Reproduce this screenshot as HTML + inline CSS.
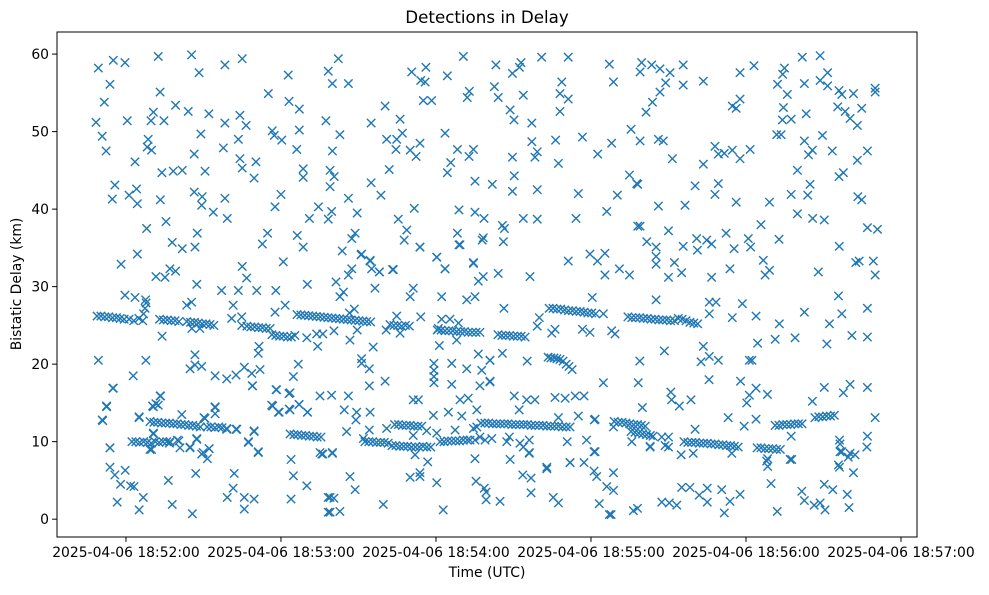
<!DOCTYPE html>
<html>
<head>
<meta charset="utf-8">
<style>
  html, body { margin: 0; padding: 0; background: #ffffff; }
  body { width: 989px; height: 590px; overflow: hidden; }
  svg text { font-family: "DejaVu Sans", "Liberation Sans", sans-serif; fill: #000; }
</style>
</head>
<body>
<svg id="chart" width="989" height="590" viewBox="0 0 989 590" xmlns="http://www.w3.org/2000/svg">
  <rect x="0" y="0" width="989" height="590" fill="#ffffff"/>
  <text x="487" y="23" font-size="16.7" text-anchor="middle">Detections in Delay</text>
  <g id="marks"></g>
  <g id="xticks"></g>
  <g id="yticks"></g>
  <rect x="57" y="32" width="860" height="505" fill="none" stroke="#000" stroke-width="1"/>
  <text x="487" y="577" font-size="13.9" text-anchor="middle">Time (UTC)</text>
  <text x="21" y="284" font-size="13.9" text-anchor="middle" transform="rotate(-90 21 284)">Bistatic Delay (km)</text>
</svg>
<script>
// seconds relative to 2025-04-06 18:52:00 UTC, delay in km
const xTickValues = [0, 60, 120, 180, 240, 300];
const xTickLabels = ["2025-04-06 18:52:00","2025-04-06 18:53:00","2025-04-06 18:54:00","2025-04-06 18:55:00","2025-04-06 18:56:00","2025-04-06 18:57:00"];
const yTickValues = [0, 10, 20, 30, 40, 50, 60];
const yTickLabels = ["0","10","20","30","40","50","60"];

const trackUpper1 = [[-11.2,26.2],[-9.7,26.2],[-8.2,26.1],[-6.7,26.1],[-5.2,26.0],[-3.7,26.0],[-2.2,25.9],[-0.7,25.8],[1.2,25.8],[3.0,25.6],[5.0,25.9],[6.8,26.5],[7.4,27.2],[7.8,27.9],[6.5,25.6]];
const trackUpper2 = [[13,25.8],[14.5,25.7],[16,25.7],[17.5,25.6],[19,25.6],[20.5,25.5],[14,23.6]];
const trackUpper3 = [[23.5,25.5],[25,25.4],[26.5,25.4],[28,25.3],[29.5,25.2],[31,25.2],[32.5,25.1],[34,25.0],[25.5,24.6],[28.6,24.6]];
const trackUpper4 = [[46.8,24.9],[48.3,24.8],[49.8,24.8],[51.3,24.7],[52.8,24.7],[54.3,24.6],[55.8,24.6],[56.5,23.8],[58,23.7],[59.5,23.6],[61,23.6],[62.5,23.5],[64,23.5]];
const trackUpper5 = [[66.2,26.4],[67.7,26.35],[69.2,26.3],[70.7,26.25],[72.2,26.2],[73.7,26.15],[75.2,26.1],[76.7,26.05],[78.2,26.0],[79.7,25.95],[81.2,25.9],[82.7,25.85],[84.2,25.8],[85.7,25.75],[87.2,25.7],[88.7,25.65],[90.2,25.6],[91.7,25.55],[93.2,25.5],[94.7,25.45]];
const trackUpper6 = [[102.2,25.1],[103.7,25.0],[105.2,25.0],[106.7,24.9],[108.2,25.0],[109.7,24.9]];
const trackUpper7 = [[120.5,24.4],[122,24.4],[123.5,24.3],[125,24.3],[126.5,24.3],[128,24.2],[129.5,24.2],[131,24.2],[132.5,24.1],[134,24.1],[135.5,24.1]];
const trackUpper8 = [[144,23.8],[145.5,23.7],[147,23.7],[148.5,23.7],[150,23.6],[151.5,23.6],[153,23.6],[154.5,23.5]];
const trackUpper9 = [[163.8,27.2],[165.3,27.2],[166.8,27.1],[168.3,27.1],[169.8,27.0],[171.3,26.9],[172.8,26.9],[174.3,26.8],[175.8,26.8],[177.3,26.7],[178.8,26.6],[180.3,26.6],[181.8,26.5]];
const trackUpper10 = [[194.3,26.1],[195.8,26.0],[197.3,26.0],[198.8,26.0],[200.3,25.9],[201.8,25.9],[203.3,25.8],[204.8,25.8],[206.3,25.7],[207.8,25.7],[209.3,25.7],[210.8,25.6],[212.3,25.6],[213.8,25.9],[215.3,25.8],[216.8,25.6],[218.3,25.4],[219.8,25.3],[221.3,25.2]];
const trackMid20 = [[163.4,20.9],[164.5,20.8],[165.7,20.8],[166.8,20.7],[168,20.6],[169.2,20.4],[170.4,20.0],[171.5,19.7],[172.7,19.3]];
const trackLowerA = [[2.3,10.0],[3.8,10.0],[5.3,9.9],[6.8,10.0],[8.3,9.9],[9.8,9.8],[11.3,10.0],[12.8,9.9],[14.3,10.0],[15.8,10.0],[17,10.0]];
const trackLowerB = [[9.3,12.6],[10.8,12.5],[12.3,12.5],[13.8,12.4],[15.3,12.4],[16.8,12.4],[18.3,12.3],[19.8,12.3],[21.3,12.2],[22.8,12.2],[24.3,12.1],[25.8,12.1],[27.3,12.0],[28.8,11.9]];
const trackLowerC = [[31.4,11.9],[32.9,11.9],[34.4,11.8],[35.9,11.9],[37.2,11.8]];
const trackLowerD = [[63.5,11.0],[65,10.9],[66.5,10.9],[68,10.8],[69.5,10.8],[71,10.7],[72.5,10.7],[74,10.6],[75.5,10.6]];
const trackLowerE = [[92.5,10.0],[94,10.0],[95.5,10.0],[97,9.9],[98.5,9.9],[100,9.9],[101.5,9.8],[103,9.5],[104.5,9.5],[106,9.4],[107.5,9.4],[109,9.4],[110.5,9.3],[112,9.3],[113.5,9.3],[115,9.4],[116.5,9.3],[118,9.3]];
const trackLowerF = [[104,12.2],[105.5,12.2],[107,12.1],[108.5,12.1],[110,12.1],[111.5,12.0],[113,12.0],[114.5,12.0]];
const trackLowerG = [[121.6,10.0],[123.1,10.0],[124.6,10.1],[126.1,10.1],[127.6,10.1],[129.1,10.1],[130.6,10.2],[132.1,10.2],[133.2,10.2]];
const trackLowerH = [[137.4,12.4],[138.9,12.4],[140.4,12.4],[141.9,12.3],[143.4,12.3],[144.9,12.3],[146.4,12.3],[147.9,12.3],[149.4,12.2],[150.9,12.2],[152.4,12.2],[153.9,12.2],[155.4,12.2],[156.9,12.1],[158.4,12.1],[159.9,12.1],[161.4,12.1],[162.9,12.0],[164.4,12.0],[165.9,12.0],[167.4,12.0],[168.9,11.9],[170.4,11.9],[171.9,11.9]];
const trackLowerI = [[189,12.6],[190.5,12.5],[192,12.5],[193.5,12.4],[195,12.3],[196.5,12.2],[198,12.2],[199.5,12.1],[201,12.0],[195.5,11.3],[197,11.2],[198.5,11.1],[200,11.0],[201.5,10.9],[203,10.8],[204,10.7]];
const trackLowerJ = [[216,10.0],[217.5,9.9],[219,9.9],[220.5,9.9],[222,9.8],[223.5,9.8],[225,9.8],[226.5,9.7],[228,9.7],[229.5,9.6],[231,9.6],[232.5,9.5],[234,9.5],[235.5,9.4],[237,9.3]];
const trackLowerK = [[244.3,9.2],[245.8,9.2],[247.3,9.1],[248.8,9.1],[250.3,9.1],[251.8,9.0],[253.3,9.0]];
const trackLowerL = [[251.3,12.1],[252.8,12.1],[254.3,12.2],[255.8,12.2],[257.3,12.2],[258.8,12.3],[260.3,12.3],[261.7,12.3]];
const trackLowerM = [[266.7,13.1],[268.2,13.2],[269.7,13.2],[271.2,13.3],[272.7,13.3],[274.2,13.4]];

const noisePoints = [
[-10.7,58.2],[-4.9,59.2],[-0.4,58.9],[12.5,59.7],[25.4,59.9],[28.3,57.6],[38.3,58.6],[45.0,59.4],[-6.2,56.1],[13.2,55.1],[-8.4,53.8],[19.2,53.4],[10.6,52.5],[24.1,52.6],[32.1,52.3],[44.1,52.1],[-11.6,51.2],[0.5,51.4],[9.7,51.4],[14.7,51.4],[38.3,51.1],[46.5,50.8],[-9.2,49.4],[8.6,49.0],[29.0,49.7],[43.5,49.0],[8.2,48.0],[9.9,47.6],[-7.7,47.5],[26.4,47.1],[37.7,47.9],[44.1,46.5],[50.3,46.1],[3.5,46.1],[45.0,45.3],[13.9,44.7],[18.3,44.9],[21.8,45.0],[30.6,44.9],[49.6,44.0],[-4.3,43.1],[4.1,42.6],[1.2,41.8],[-5.3,41.3],[4.4,40.7],[13.3,41.2],[26.4,42.2],[29.5,41.6],[29.3,40.5],[38.3,41.4],[33.8,39.6],[39.2,38.8],[15.5,38.4],[8.0,37.5],[27.6,36.9],[17.9,35.7],[21.8,34.9],[26.7,35.1],[4.4,34.2],[-1.9,32.9],[45.0,32.6],[17.0,32.3],[19.2,32.0],[11.6,31.3],[15.1,31.2],[46.7,31.1],
[62.8,57.3],[82.2,59.4],[78.3,57.8],[79.9,56.2],[86.1,56.2],[55.1,54.9],[63.1,53.9],[67.1,52.9],[77.4,51.4],[56.6,50.1],[57.4,49.5],[60.3,48.9],[67.1,50.2],[82.8,49.6],[66.1,47.7],[79.9,47.5],[68.6,45.2],[68.6,44.1],[79.0,45.0],[80.6,44.2],[79.0,42.9],[60.0,41.9],[57.7,40.3],[74.5,40.3],[71.0,38.8],[79.6,39.7],[78.3,38.7],[86.1,41.4],[89.5,39.5],[54.8,36.9],[52.8,35.5],[66.3,36.6],[68.6,35.1],[88.7,36.9],[87.4,36.2],[83.7,34.6],[91.0,34.1],[60.9,33.2],[87.4,32.3],[86.1,31.5],
[130.6,59.7],[143.2,58.6],[152.9,58.9],[152.3,58.3],[149.6,57.5],[160.9,59.6],[171.2,59.6],[187.1,58.7],[188.7,56.4],[168.7,56.4],[168.0,54.9],[171.2,54.2],[168.0,52.6],[110.6,57.7],[116.1,58.3],[114.1,56.6],[115.8,56.4],[124.4,57.2],[115.1,54.0],[118.3,54.0],[132.9,55.2],[132.1,54.4],[142.6,55.8],[144.1,54.4],[153.8,54.7],[148.7,52.8],[150.2,51.5],[157.1,51.1],[100.3,53.3],[94.9,51.1],[106.1,51.6],[107.0,49.8],[100.9,49.0],[104.8,49.0],[104.5,47.7],[110.0,47.6],[113.8,48.5],[112.3,46.8],[123.5,49.8],[128.3,47.7],[134.5,47.7],[132.8,46.8],[125.7,46.0],[124.4,44.7],[101.9,45.1],[94.9,43.4],[98.7,41.8],[157.1,48.7],[159.2,47.4],[158.3,46.7],[149.6,46.7],[166.3,48.9],[167.4,45.9],[176.7,49.3],[182.6,47.1],[188.0,48.5],[195.5,50.3],[150.3,44.3],[149.6,42.3],[159.2,42.5],[135.1,43.6],[141.8,43.2],[175.1,42.0],[190.2,41.8],[194.9,44.4],[197.7,43.3],[111.6,40.1],[105.4,38.7],[108.7,37.3],[107.7,36.0],[113.8,35.1],[128.9,39.9],[135.1,39.6],[138.6,38.8],[128.3,36.9],[128.9,35.4],[138.3,36.3],[137.9,36.0],[145.7,37.9],[146.5,37.5],[146.1,35.8],[153.8,38.8],[159.2,38.7],[174.2,38.8],[186.1,39.7],[198.1,37.8],[91.2,34.2],[94.5,33.3],[95.1,32.3],[98.1,31.9],[103.2,32.2],[120.3,33.8],[123.5,32.3],[134.5,33.1],[144.1,31.7],[171.2,33.3],[179.6,34.2],[185.4,34.3],[182.5,33.3],[191.0,32.3],[185.4,31.5],[194.9,31.5],[138.3,31.3],[156.4,31.3],
[199.6,58.9],[199.0,57.7],[203.5,58.6],[206.7,58.1],[210.6,57.6],[215.7,58.6],[208.9,56.3],[215.7,56.0],[223.5,56.5],[206.7,55.1],[203.8,53.8],[201.3,52.5],[237.7,57.6],[243.1,58.5],[237.7,54.2],[234.7,53.3],[236.2,53.0],[252.2,56.1],[254.9,58.2],[254.2,57.4],[256.0,54.8],[261.8,59.6],[268.7,59.8],[271.6,57.6],[262.6,56.2],[268.7,56.6],[271.6,55.9],[276.0,55.3],[277.1,54.8],[281.6,54.9],[290.0,55.6],[290.0,55.1],[254.5,53.1],[254.1,51.5],[257.5,51.6],[263.3,52.3],[275.5,53.2],[278.4,52.6],[280.3,51.7],[283.1,50.8],[284.8,53.0],[251.9,49.6],[253.6,49.6],[262.6,48.8],[265.7,47.6],[264.2,47.0],[269.6,49.5],[273.4,47.5],[283.1,46.3],[287.0,47.5],[199.0,48.8],[206.1,49.0],[208.0,48.8],[211.5,46.5],[223.5,45.8],[228.0,48.1],[229.3,47.1],[231.6,47.2],[234.7,47.6],[237.7,46.5],[241.6,47.7],[198.1,43.2],[220.3,43.0],[229.3,43.3],[228.0,41.9],[206.1,40.4],[216.4,40.5],[236.2,40.9],[249.1,40.9],[259.9,45.0],[264.8,43.2],[263.9,41.8],[257.5,41.9],[276.0,44.2],[277.7,44.7],[283.3,41.6],[284.8,41.2],[259.9,39.4],[265.8,38.8],[270.3,38.6],[245.8,38.0],[252.8,36.1],[287.0,37.6],[290.9,37.4],[199.0,37.8],[210.0,37.2],[201.6,35.8],[205.2,35.1],[205.2,33.9],[205.2,32.9],[212.3,33.1],[215.1,31.8],[215.7,35.2],[220.9,36.2],[221.2,34.7],[224.8,36.0],[226.7,35.5],[232.3,36.9],[235.4,34.9],[240.9,36.2],[241.8,35.1],[233.8,32.3],[246.7,33.4],[249.1,32.1],[247.4,31.5],[268.0,31.9],[276.1,35.2],[282.5,33.1],[283.8,33.3],[289.3,33.3],[290.0,31.5],[210.0,31.2],[226.7,31.2],
[76.2,8.4],[79.9,8.5],[86.7,5.5],[88.7,3.8],[79.0,2.8],[80.5,2.7],[79.0,0.9],[82.8,1.0],[99.6,1.9],[110.0,5.4],[113.8,6.0],[113.8,5.5],[111.9,8.3],[116.8,7.4],[120.3,4.7],[122.8,1.2],[135.1,7.8],[135.5,4.9],[138.7,4.0],[139.4,3.5],[139.4,2.5],[144.8,2.3],[148.7,7.7],[153.6,5.7],[156.8,5.3],[156.8,3.4],[156.1,8.5],[162.9,6.5],[165.4,2.8],[167.4,2.1],[171.9,7.3],[177.3,7.3],[181.2,8.7],[181.2,6.2],[182.2,5.5],[188.7,6.0],[186.1,4.2],[188.7,3.7],[183.2,2.0],[187.1,0.6],
[187.8,0.6],[196.4,1.1],[198.0,1.4],[207.4,2.2],[210.3,2.1],[213.2,1.8],[215.1,4.1],[218.3,4.1],[221.9,3.1],[225.0,4.0],[225.0,2.2],[230.6,3.8],[233.8,2.3],[237.7,3.2],[231.6,0.8],[249.7,4.6],[252.1,1.0],[248.4,6.8],[257.1,7.7],[261.6,3.6],[262.6,2.4],[266.4,1.8],[268.7,2.1],[270.6,1.2],[270.3,4.5],[273.6,3.8],[279.2,3.2],[279.9,1.5],[276.2,6.7],[281.6,6.0],[279.6,8.0],[282.2,8.3],[276.4,8.7],[276.4,9.7],[286.8,9.3],[202.9,9.3],[195.8,10.0],[210.0,9.3],[214.9,8.3],[219.6,8.5],[234.5,8.5],[248.4,7.8],
[27.4,30.3],[37.0,29.5],[43.5,29.5],[50.6,29.5],[58.0,29.5],[70.2,30.3],[81.3,30.6],[84.2,29.3],[82.8,28.7],[-0.4,28.9],[3.5,28.6],[7.6,28.3],[41.5,27.6],[23.5,27.6],[25.4,28.0],[44.8,25.0],[44.8,26.1],[40.9,25.9],[61.6,27.6],[57.7,26.7],[88.4,27.1],[86.5,26.6],[96.4,29.8],[98.1,31.9],[103.5,32.2],[94.5,33.4],[111.2,29.8],[110.0,28.7],[122.2,28.7],[131.9,28.3],[135.1,28.7],[136.4,30.7],[120.3,33.8],[123.5,32.3],[134.5,33.0],[113.8,35.1],[129.3,35.4],[104.8,26.2],[114.1,26.1],[122.2,25.8],[125.4,25.8],[120.9,24.6],[128.7,25.3],[128.0,23.1],[121.3,22.4],[100.7,24.4],[106.1,24.0],[95.7,22.2],[89.5,24.4],[86.7,23.1],[80.5,24.3],[74.2,22.3],[76.2,23.9],[70.0,23.4],[73.8,23.9],[65.4,23.7],[91.2,20.7],[91.2,20.1],[94.2,19.4],[94.2,17.2],[100.3,17.8],[119.2,20.1],[119.2,19.2],[119.2,18.4],[119.2,17.6],[126.1,20.1],[126.1,17.4],[131.9,19.4],[137.7,19.2],[136.4,21.3],[140.9,20.5],[140.9,17.7],[137.0,17.2],[129.3,15.4],[132.5,15.6],[135.8,14.1],[119.0,13.4],[124.8,13.8],[130.0,13.3],[127.4,11.5],[134.5,11.7],[120.3,11.1],[111.2,15.4],[113.2,15.4],[94.5,13.8],[91.9,10.4],[85.4,11.3],[89.3,13.8],[84.5,14.1],[89.0,12.8],[94.2,11.5],[79.6,16.0],[75.1,15.9],[86.1,15.9],[66.7,20.0],[64.8,18.4],[63.1,16.2],[58.3,16.7],[56.4,14.7],[59.0,13.8],[63.5,14.1],[67.0,14.8],[70.3,13.8],[49.0,17.2],[51.9,19.3],[48.7,18.8],[45.8,19.6],[42.6,18.6],[39.0,18.1],[34.5,18.5],[29.3,19.7],[26.7,19.9],[24.8,19.4],[26.7,21.2],[51.5,22.3],[51.2,21.4],[7.7,20.5],[-10.7,20.5],[2.8,18.5],[-4.9,16.9],[-7.5,14.6],[-9.2,12.8],[5.1,13.1],[13.2,15.9],[11.6,14.9],[10.3,14.6],[21.6,13.5],[30.6,13.0],[34.5,14.5],[34.5,13.6],[42.6,11.6],[49.6,11.3],[47.4,10.0],[51.2,8.7],[39.0,11.6],[10.6,11.0],[9.3,9.0],[19.9,10.2],[27.4,10.3],[24.8,9.2],[20.9,9.2],[29.9,8.6],[32.2,9.1],[-6.2,9.2],[75.1,8.6],[79.9,8.6],[100.9,11.7],[111.2,10.8],[116.4,11.4],[135.8,11.9],[135.1,10.2],[139.0,10.2],
[-9.0,12.7],[-7.5,14.5],[-5.1,16.9],[-6.2,9.2],[-6.2,6.7],[-4.3,5.7],[-3.4,2.2],[-2.1,4.5],[-0.3,6.3],[1.8,4.3],[3.1,4.2],[6.7,2.8],[5.1,1.2],[5.1,13.2],[10.6,14.5],[12.5,14.7],[13.4,15.9],[10.6,11.1],[9.9,9.0],[16.4,5.0],[17.9,1.9],[25.7,0.7],[27.0,5.9],[16.8,9.8],[20.5,10.1],[24.8,9.3],[27.4,10.4],[29.3,8.4],[31.5,7.8],[32.2,9.1],[30.2,13.1],[34.5,14.4],[39.0,11.7],[42.9,11.6],[41.9,5.9],[41.5,4.0],[39.2,2.8],[45.8,2.8],[45.8,1.3],[49.6,2.6],[47.4,9.9],[51.2,8.6],[49.6,11.4],[48.9,17.2],[58.1,16.7],[56.8,14.6],[59.3,13.8],[63.2,14.2],[67.0,14.8],[70.2,13.8],[63.5,16.3],[63.9,7.7],[64.8,5.6],[63.9,2.6],[70.0,4.3],[75.8,8.4],[78.3,2.8],[78.3,0.9],
[146.3,27.2],[180.5,28.6],[205.2,28.3],[160.0,26.0],[159.2,24.9],[164.8,24.0],[166.1,24.5],[176.7,24.5],[179.6,24.1],[184.8,26.5],[188.0,24.3],[189.3,23.9],[137.0,24.1],[225.8,28.0],[228.4,28.0],[225.8,26.5],[238.6,27.8],[234.7,26.0],[243.9,26.2],[252.9,25.2],[262.6,26.7],[275.8,28.8],[277.1,26.5],[287.0,27.2],[272.3,25.2],[281.0,23.7],[287.0,23.5],[271.3,22.6],[259.0,23.4],[251.3,23.2],[244.5,22.7],[223.5,22.3],[225.8,21.0],[229.3,20.5],[222.6,20.3],[241.3,20.5],[242.3,20.5],[225.7,18.0],[237.9,17.8],[243.9,16.9],[241.3,16.0],[240.3,15.0],[248.3,16.1],[265.7,15.2],[270.3,17.0],[277.7,16.3],[280.3,17.4],[287.0,17.0],[290.0,13.1],[208.4,21.7],[198.9,20.4],[198.3,17.6],[184.8,17.6],[155.3,20.4],[145.7,21.4],[140.9,20.5],[140.9,17.8],[150.3,15.9],[155.1,15.4],[158.3,15.4],[152.2,14.1],[166.1,15.7],[170.0,15.6],[173.9,15.9],[177.3,15.9],[167.4,13.1],[175.1,13.3],[181.3,12.8],[210.9,16.4],[211.2,15.4],[214.2,14.6],[218.7,15.4],[199.9,14.4],[233.1,13.1],[239.3,12.0],[243.9,12.9],[257.5,10.7],[276.2,10.2],[287.0,10.7],[280.3,8.5],[277.1,8.7],[275.8,7.0],[257.7,7.7],[248.0,7.5],[220.3,11.6],[202.9,9.4],[137.0,10.6],[141.6,10.4],[148.4,10.6],[147.4,10.0],[152.5,9.8],[156.1,10.2],[153.8,9.3],[156.1,8.6],[162.9,6.7],[170.8,10.0],[171.9,7.3],[178.3,10.2],[181.6,8.7],[181.6,12.9],[188.7,11.9],[207.4,10.6],[208.7,9.5],[210.0,10.6]
];

const allSeries = [trackUpper1, trackUpper2, trackUpper3, trackUpper4, trackUpper5, trackUpper6, trackUpper7, trackUpper8, trackUpper9, trackUpper10, trackMid20, trackLowerA, trackLowerB, trackLowerC, trackLowerD, trackLowerE, trackLowerF, trackLowerG, trackLowerH, trackLowerI, trackLowerJ, trackLowerK, trackLowerL, trackLowerM, noisePoints];

const PLOT = { left: 57, right: 917, top: 32, bottom: 537 };
const X_MIN = -26.7, X_MAX = 306.2, Y_MIN = -2.3, Y_MAX = 62.85;
function xScale(t) { return PLOT.left + (t - X_MIN) / (X_MAX - X_MIN) * (PLOT.right - PLOT.left); }
function yScale(d) { return PLOT.bottom - (d - Y_MIN) / (Y_MAX - Y_MIN) * (PLOT.bottom - PLOT.top); }

const NS = "http://www.w3.org/2000/svg";
const marks = document.getElementById("marks");
const half = 4.2;
allSeries.forEach(function (series) {
  series.forEach(function (p) {
    const cx = xScale(p[0]), cy = yScale(p[1]);
    const m = document.createElementNS(NS, "path");
    m.setAttribute("d", "M" + (cx - half) + " " + (cy - half) + "L" + (cx + half) + " " + (cy + half) + "M" + (cx - half) + " " + (cy + half) + "L" + (cx + half) + " " + (cy - half));
    m.setAttribute("stroke", "#1f77b4");
    m.setAttribute("stroke-width", "1.4");
    m.setAttribute("fill", "none");
    
    
    marks.appendChild(m);
  });
});

const xg = document.getElementById("xticks");
xTickValues.forEach(function (v, i) {
  const x = xScale(v);
  const tk = document.createElementNS(NS, "line");
  tk.setAttribute("x1", x); tk.setAttribute("x2", x);
  tk.setAttribute("y1", PLOT.bottom); tk.setAttribute("y2", PLOT.bottom + 4.9);
  tk.setAttribute("stroke", "#000"); tk.setAttribute("stroke-width", "1");
  
  
  xg.appendChild(tk);
  const lb = document.createElementNS(NS, "text");
  lb.setAttribute("x", x); lb.setAttribute("y", PLOT.bottom + 20);
  lb.setAttribute("font-size", "13.9"); lb.setAttribute("text-anchor", "middle");
  lb.textContent = xTickLabels[i];
  
  
  xg.appendChild(lb);
});

const yg = document.getElementById("yticks");
yTickValues.forEach(function (v, i) {
  const y = yScale(v);
  const tk = document.createElementNS(NS, "line");
  tk.setAttribute("x1", PLOT.left - 4.9); tk.setAttribute("x2", PLOT.left);
  tk.setAttribute("y1", y); tk.setAttribute("y2", y);
  tk.setAttribute("stroke", "#000"); tk.setAttribute("stroke-width", "1");
  
  
  yg.appendChild(tk);
  const lb = document.createElementNS(NS, "text");
  lb.setAttribute("x", PLOT.left - 8); lb.setAttribute("y", y + 5);
  lb.setAttribute("font-size", "13.9"); lb.setAttribute("text-anchor", "end");
  lb.textContent = yTickLabels[i];
  
  
  yg.appendChild(lb);
});
</script>
</body>
</html>
